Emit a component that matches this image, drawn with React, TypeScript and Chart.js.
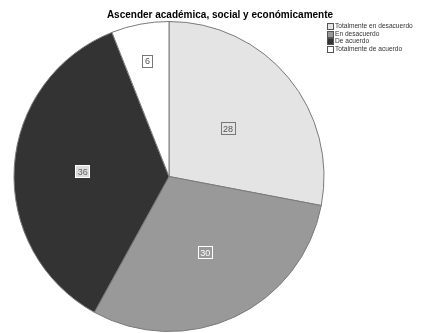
import React, { useEffect, useRef } from "react";
import { Chart, registerables } from "chart.js";

Chart.register(...registerables);

const title = "Ascender académica, social y económicamente";
const categories = [
  "Totalmente en desacuerdo",
  "En desacuerdo",
  "De acuerdo",
  "Totalmente de acuerdo",
];
const values = [28, 30, 36, 6];
const sliceColors = ["#e4e4e4", "#999999", "#333333", "#ffffff"];

// label styling per slice (radius fraction, box fill, box border, text colour)
const labelRadius = [0.49, 0.54, 0.56, 0.76];
const labelFill = ["#e4e4e4", "#999999", "#dcdcdc", "#ffffff"];
const labelBorder = ["#777777", "#ffffff", "#ffffff", "#777777"];
const labelText = ["#555555", "#ffffff", "#666666", "#555555"];

const FONT = "'Liberation Sans', Arial, sans-serif";

const decorPlugin = {
  id: "decor",
  afterDatasetsDraw(chart: any) {
    const ctx = chart.ctx;
    const meta = chart.getDatasetMeta(0);
    ctx.save();
    meta.data.forEach((arc: any, i: number) => {
      const { x, y, startAngle, endAngle, outerRadius } = arc.getProps(
        ["x", "y", "startAngle", "endAngle", "outerRadius"],
        true
      );
      const mid = (startAngle + endAngle) / 2;
      const r = outerRadius * labelRadius[i];
      const lx = x + Math.cos(mid) * r;
      const ly = y + Math.sin(mid) * r;
      const text = String(values[i]);
      ctx.font = `9px ${FONT}`;
      const w = Math.max(ctx.measureText(text).width + 4, 10);
      const h = 12;
      ctx.fillStyle = labelFill[i];
      ctx.fillRect(Math.round(lx - w / 2) + 0.5, Math.round(ly - h / 2) + 0.5, w, h);
      ctx.strokeStyle = labelBorder[i];
      ctx.lineWidth = 1;
      ctx.strokeRect(Math.round(lx - w / 2) + 0.5, Math.round(ly - h / 2) + 0.5, w, h);
      ctx.fillStyle = labelText[i];
      ctx.textAlign = "center";
      ctx.textBaseline = "middle";
      ctx.fillText(text, lx + 0.5, ly + 1);
    });

    // title
    ctx.font = `bold 10px ${FONT}`;
    ctx.fillStyle = "#000000";
    ctx.textAlign = "center";
    ctx.textBaseline = "middle";
    ctx.fillText(title, 220, 15);

    // legend
    ctx.font = `6.6px ${FONT}`;
    ctx.textAlign = "left";
    categories.forEach((c, i) => {
      const ry = 26 + i * 7.5;
      ctx.fillStyle = sliceColors[i];
      ctx.fillRect(327.5, Math.round(ry - 3) + 0.5, 6, 6);
      ctx.strokeStyle = "#555555";
      ctx.lineWidth = 1;
      ctx.strokeRect(327.5, Math.round(ry - 3) + 0.5, 6, 6);
      ctx.fillStyle = "#333333";
      ctx.fillText(c, 335, ry + 0.5);
    });
    ctx.restore();
  },
};

export default function App() {
  const ref = useRef<HTMLCanvasElement>(null);
  useEffect(() => {
    document.body.style.margin = "0";
    const chart = new Chart(ref.current as HTMLCanvasElement, {
      type: "pie",
      data: {
        labels: categories,
        datasets: [
          {
            data: values,
            backgroundColor: sliceColors,
            borderColor: "#7a7a7a",
            borderWidth: 1,
            hoverOffset: 0,
            hoverBorderWidth: 1,
          },
        ],
      },
      options: {
        animation: false,
        responsive: false,
        events: [],
        layout: { padding: { top: 21, bottom: 1, left: 13, right: 96 } },
        plugins: {
          legend: { display: false },
          title: { display: false },
          tooltip: { enabled: false },
        },
      },
      plugins: [decorPlugin],
    });
    return () => chart.destroy();
  }, []);
  return (
    <div style={{ position: "absolute", left: 0, top: 0, width: 421, height: 333, background: "#fff" }}>
      <canvas ref={ref} width={421} height={333} style={{ width: 421, height: 333 }} />
    </div>
  );
}
